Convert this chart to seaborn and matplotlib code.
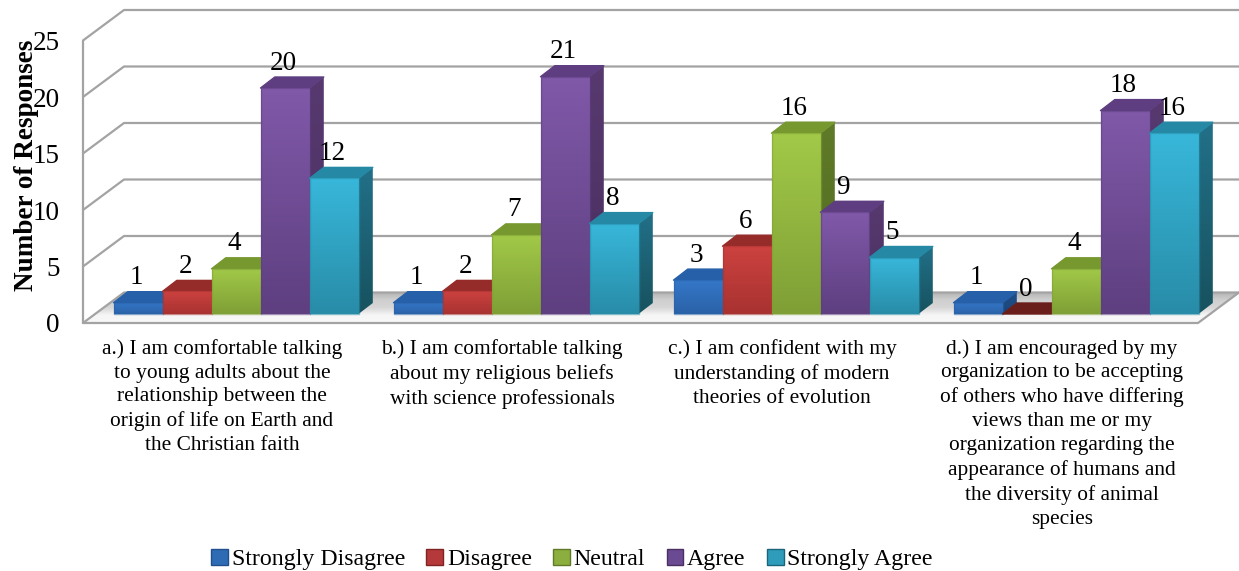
import numpy as np
import pandas as pd
import matplotlib
matplotlib.use("Agg")
import matplotlib.pyplot as plt
from matplotlib.colors import LinearSegmentedColormap
from matplotlib.patches import Polygon, Patch
import seaborn as sns

questions = [
    "a.) I am comfortable talking\nto young adults about the\nrelationship between the\norigin of life on Earth and\nthe Christian faith",
    "b.) I am comfortable talking\nabout my religious beliefs\nwith science professionals",
    "c.) I am confident with my\nunderstanding of modern\ntheories of evolution",
    "d.) I am encouraged by my\norganization to be accepting\nof others who have differing\nviews than me or my\norganization regarding the\nappearance of humans and\nthe diversity of animal\nspecies",
]
levels = ["Strongly Disagree", "Disagree", "Neutral", "Agree", "Strongly Agree"]
strongly_disagree = [1, 1, 3, 1]
disagree = [2, 2, 6, 0]
neutral = [4, 7, 16, 4]
agree = [20, 21, 9, 18]
strongly_agree = [12, 8, 5, 16]

front_top = ["#3577C8", "#CC4240", "#A2C948", "#8059A9", "#38B7DA"]
front_bottom = ["#2A62A8", "#A83230", "#7F9F36", "#5E3F80", "#288CA8"]
side_top = ["#1F4F8C", "#7E2422", "#5F7A28", "#57396F", "#227088"]
side_bottom = ["#1C4578", "#6A1E1C", "#536B22", "#4A2F60", "#17525F"]
cap_color = ["#2560A8", "#962C2A", "#76982F", "#5E3E80", "#2589A6"]
legend_color = ["#2E6BB5", "#B5383A", "#8CAE3E", "#6A4A92", "#2F9CBB"]
legend_edge = ["#1F4F8C", "#7E2422", "#5F7A28", "#4A2F60", "#1A6579"]

FIG_W, FIG_H = 1239, 571
AX_LEFT, AX_RIGHT, AX_ZERO, AX_TOP = 83, 1198, 323, 40.5
CAT_PX = 280.0
FIRST_CENTER_PX = 236.0
UNIT_PX = (AX_ZERO - AX_TOP) / 25

sns.set_theme(style="white")
plt.rcParams["font.family"] = ["Liberation Serif", "DejaVu Serif"]

fig = plt.figure(figsize=(FIG_W / 100, FIG_H / 100), dpi=100)
ax = fig.add_axes([
    AX_LEFT / FIG_W, 1 - AX_ZERO / FIG_H,
    (AX_RIGHT - AX_LEFT) / FIG_W, (AX_ZERO - AX_TOP) / FIG_H,
])

frame = pd.DataFrame({
    "question": np.repeat(np.arange(len(questions)), len(levels)),
    "level": levels * len(questions),
    "responses": np.array([strongly_disagree, disagree, neutral, agree, strongly_agree]).T.ravel(),
})

# Bars stand on the raised floor, so their feet sit above the front axis line.
floor_lift = 9 / UNIT_PX
sns.barplot(
    data=frame, x="question", y="responses", hue="level", hue_order=levels,
    order=range(len(questions)), palette=front_top, width=0.875, gap=0,
    errorbar=None, legend=False, ax=ax, bottom=floor_lift, linewidth=0,
)

xlim = ((AX_LEFT - FIRST_CENTER_PX) / CAT_PX, (AX_RIGHT - FIRST_CENTER_PX) / CAT_PX)


def gradient_fill(points, colors, zorder):
    """Fill a polygon (data coordinates) with a vertical colour ramp."""
    points = np.asarray(points, dtype=float)
    clip = Polygon(points, closed=True, transform=ax.transData, facecolor="none", edgecolor="none")
    ax.add_patch(clip)
    clip.set_clip_on(False)
    cmap = LinearSegmentedColormap.from_list("ramp", colors)
    image = ax.imshow(
        np.linspace(0, 1, 64).reshape(-1, 1), cmap=cmap, aspect="auto", origin="upper",
        extent=(points[:, 0].min(), points[:, 0].max(), points[:, 1].min(), points[:, 1].max()),
        zorder=zorder,
    )
    image.set_clip_box(fig.bbox)
    image.set_clip_path(clip)
    return image


# Walls and floor of the box behind the bars.
wall_dx = 41 / CAT_PX
wall_dy = 30.5 / UNIT_PX
x0, x1 = xlim
line_style = dict(color="#A3A3A3", linewidth=1.6, clip_on=False, solid_capstyle="round")
gradient_fill(
    [(x0, 0), (x0 + wall_dx, wall_dy), (x1 + wall_dx, wall_dy), (x1, 0)],
    ["#B4B4B4", "#CFCFCF", "#D6D6D6", "#F6F6F6", "#F8F8F8"], 0.5,
)
for tick in range(0, 30, 5):
    ax.plot([x0, x0 + wall_dx, x1 + wall_dx],
            [tick, tick + wall_dy, tick + wall_dy], zorder=1, **line_style)
ax.plot([x0, x0], [0, 25], zorder=1, **line_style)
ax.plot([x0, x1, x1 + wall_dx], [0, 0, wall_dy], zorder=1, **line_style)

# Extrude every bar: a darker side face and a cap, painted left to right.
depth_x = 14.3 / CAT_PX
depth_y = 11 / UNIT_PX
levels_per_bar = []
for level_index, container in enumerate(ax.containers):
    for rect in container:
        levels_per_bar.append((rect.get_x(), level_index, rect))
levels_per_bar.sort(key=lambda item: item[0])

for order, (left, level_index, rect) in enumerate(levels_per_bar):
    z = 3 + order * 0.01
    right = left + rect.get_width()
    base = rect.get_y()
    top = base + rect.get_height()
    rect.set_zorder(z)
    rect.set_clip_on(False)
    side = [(right, base), (right + depth_x, base + depth_y), (right + depth_x, top + depth_y), (right, top)]
    gradient_fill(side, [side_top[level_index], side_bottom[level_index]], z)
    cap_fill = cap_color[level_index] if rect.get_height() else side_bottom[level_index]
    cap = Polygon(
        [(left, top), (left + depth_x, top + depth_y), (right + depth_x, top + depth_y), (right, top)],
        closed=True, facecolor=cap_fill, edgecolor=cap_fill, linewidth=1.0,
        joinstyle="round", zorder=z + 0.001, clip_on=False,
    )
    ax.add_patch(cap)
    if rect.get_height() > 0:
        front = [(left, base), (left, top), (right, top), (right, base)]
        gradient_fill(front, [front_top[level_index], front_bottom[level_index]], z + 0.002)
        ax.add_patch(Polygon(
            front, closed=True, facecolor="none", edgecolor=front_bottom[level_index],
            linewidth=1.0, alpha=0.55, joinstyle="round", zorder=z + 0.003, clip_on=False,
        ))

for container in ax.containers:
    for note in ax.bar_label(container, fmt="%d", padding=9.0, fontsize=19.5, color="black",
                             zorder=10, clip_on=False):
        note.xyann = (note.xyann[0] - 1.2, note.xyann[1])

ax.set_xlim(*xlim)
ax.set_ylim(0, 25)
ax.set_xticks(np.arange(len(questions)) - 14 / CAT_PX)
ax.set_xticklabels(questions, fontsize=15.4, color="black", linespacing=1.34, va="top")
ax.set_yticks(range(0, 30, 5))
ax.tick_params(axis="x", length=0, pad=11.5)
ax.tick_params(axis="y", length=0, pad=17, labelsize=19.5, labelcolor="black")
ax.set_xlabel("")
ax.set_ylabel("Number of Responses", fontsize=19.5, fontweight="bold", color="black")
ax.yaxis.set_label_coords((39 - AX_LEFT) / (AX_RIGHT - AX_LEFT), (AX_ZERO - 165) / (AX_ZERO - AX_TOP))
sns.despine(ax=ax, left=True, bottom=True, top=True, right=True)
ax.patch.set_visible(False)

handles = [Patch(facecolor=c, edgecolor=e, linewidth=1.0, label=name)
           for c, e, name in zip(legend_color, legend_edge, levels)]
fig.legend(
    handles=handles, ncol=5, frameon=False, loc="center",
    bbox_to_anchor=(572 / FIG_W, 1 - 559.5 / FIG_H), fontsize=17.2,
    handlelength=0.7, handleheight=0.7, handletextpad=0.15, columnspacing=0.9,
    labelcolor="black", borderpad=0,
)

fig.savefig("out.png", dpi=100)
